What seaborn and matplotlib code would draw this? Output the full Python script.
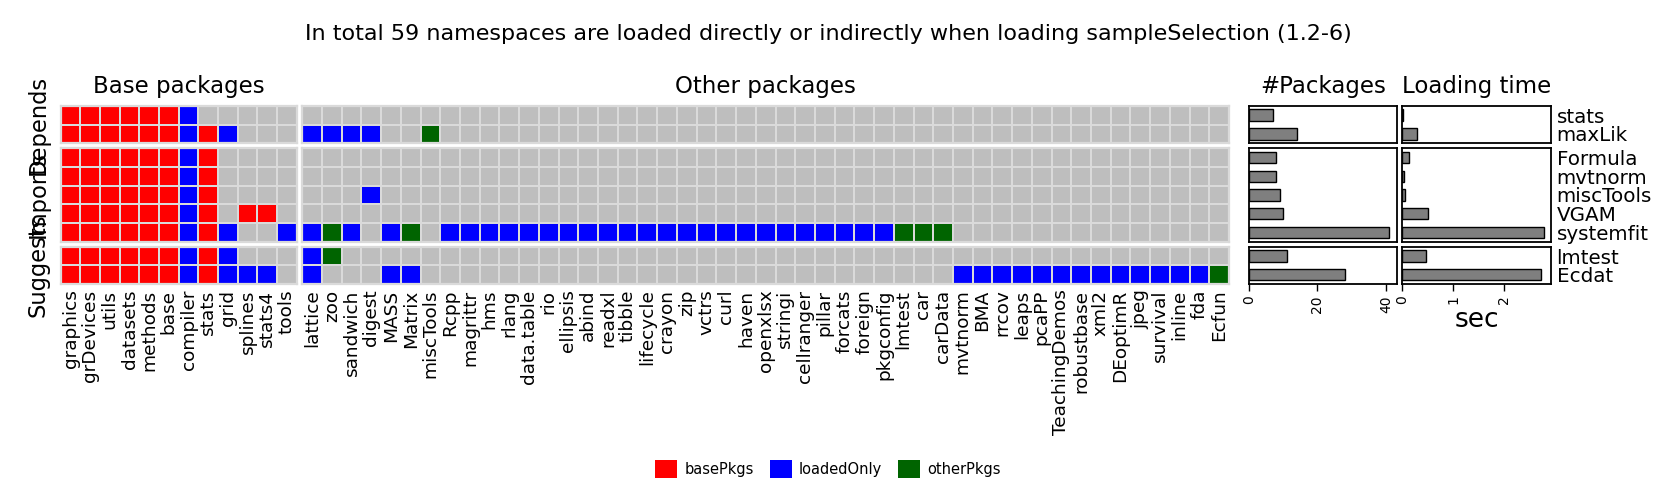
import numpy as np
import pandas as pd
import seaborn as sns
import matplotlib.pyplot as plt
from matplotlib.colors import ListedColormap
from matplotlib.patches import Patch

# requiring packages (rows) and their dependency groups
depends = ['stats', 'maxLik']
imports = ['Formula', 'mvtnorm', 'miscTools', 'VGAM', 'systemfit']
suggests = ['lmtest', 'Ecdat']

base_pkgs = ['graphics', 'grDevices', 'utils', 'datasets', 'methods', 'base',
             'compiler', 'stats', 'grid', 'splines', 'stats4', 'tools']
other_pkgs = ['lattice', 'zoo', 'sandwich', 'digest', 'MASS', 'Matrix', 'miscTools',
              'Rcpp', 'magrittr', 'hms', 'rlang', 'data.table', 'rio', 'ellipsis',
              'abind', 'readxl', 'tibble', 'lifecycle', 'crayon', 'zip', 'vctrs',
              'curl', 'haven', 'openxlsx', 'stringi', 'cellranger', 'pillar',
              'forcats', 'foreign', 'pkgconfig', 'lmtest', 'car', 'carData',
              'mvtnorm', 'BMA', 'rrcov', 'leaps', 'pcaPP', 'TeachingDemos',
              'robustbase', 'xml2', 'DEoptimR', 'jpeg', 'survival', 'inline',
              'fda', 'Ecfun']

# status codes: b = basePkgs, l = loadedOnly, o = otherPkgs, - = not loaded
base_status = {
    'stats':     "bbbbbbl-----",
    'maxLik':    "bbbbbblbl---",
    'Formula':   "bbbbbblb----",
    'mvtnorm':   "bbbbbblb----",
    'miscTools': "bbbbbblb----",
    'VGAM':      "bbbbbblb-bb-",
    'systemfit': "bbbbbblbl--l",
    'lmtest':    "bbbbbblbl---",
    'Ecdat':     "bbbbbblblll-",
}
other_status = {
    'stats':     "----------" "----------" "----------" "----------" "-------",
    'maxLik':    "llll--o---" "----------" "----------" "----------" "-------",
    'Formula':   "----------" "----------" "----------" "----------" "-------",
    'mvtnorm':   "----------" "----------" "----------" "----------" "-------",
    'miscTools': "---l------" "----------" "----------" "----------" "-------",
    'VGAM':      "----------" "----------" "----------" "----------" "-------",
    'systemfit': "lol-lo-lll" "llllllllll" "llllllllll" "ooo-------" "-------",
    'lmtest':    "lo--------" "----------" "----------" "----------" "-------",
    'Ecdat':     "l---ll----" "----------" "----------" "---lllllll" "llllllo",
}

# side panels
n_packages = [7, 14, 8, 8, 9, 10, 41, 11, 28]
load_sec = [0.01, 0.30, 0.13, 0.03, 0.05, 0.51, 2.78, 0.47, 2.72]

code_map = {'-': 0, 'b': 1, 'l': 2, 'o': 3}
cmap = ListedColormap(['#BEBEBE', '#FF0000', '#0000FF', '#006400'])
line_col = '#DADADA'

sns.set_style('white')
plt.rcParams['font.family'] = ['DejaVu Sans']
plt.rcParams['text.color'] = 'black'
plt.rcParams['axes.labelcolor'] = 'black'
plt.rcParams['xtick.color'] = 'black'
plt.rcParams['ytick.color'] = 'black'

W, H = 1658, 492
fig = plt.figure(figsize=(W / 100, H / 100), dpi=100)


def box(x0, y0, x1, y1):
    return [x0 / W, 1 - y1 / H, (x1 - x0) / W, (y1 - y0) / H]


groups = [('Depends', depends, 105.7, 143.3),
          ('Imports', imports, 148.3, 241.7),
          ('Suggests', suggests, 246.7, 284)]
blocks = [(base_pkgs, base_status, 60.7, 296.7),
          (other_pkgs, other_status, 302.3, 1229)]

all_rows = depends + imports + suggests
bar_df = pd.DataFrame({'pkg': all_rows, 'n': n_packages, 'sec': load_sec})

for gi, (gname, rows, y0, y1) in enumerate(groups):
    last = gi == len(groups) - 1
    for cols, status, x0, x1 in blocks:
        mat = pd.DataFrame([[code_map[c] for c in status[r]] for r in rows],
                           index=rows, columns=cols)
        ax = fig.add_axes(box(x0, y0, x1, y1))
        sns.heatmap(mat, cmap=cmap, vmin=-0.5, vmax=3.5, cbar=False,
                    linewidths=1.2, linecolor=line_col, ax=ax,
                    xticklabels=cols if last else False, yticklabels=False)
        for s in ax.spines.values():
            s.set_visible(True)
            s.set_color(line_col)
            s.set_linewidth(1.6)
        ax.set_xlabel('')
        ax.set_ylabel('')
        if last:
            ax.tick_params(axis='x', length=0, pad=4, labelsize=13.3, rotation=90)
            for t in ax.get_xticklabels():
                t.set_va('top')
                t.set_ha('center')
        if gi == 0:
            ax.set_title('Base packages' if cols is base_pkgs else 'Other packages',
                         fontsize=16.5, pad=9)
    fig.text(38 / W, 1 - (y0 + y1) / 2 / H, gname, rotation=90,
             ha='center', va='center', fontsize=16.3)

    sub = bar_df[bar_df['pkg'].isin(rows)]
    for key, xmax, bx0, bx1, ttl in [('n', 43.3, 1249, 1397.3, '#Packages'),
                                    ('sec', 2.92, 1402, 1551, 'Loading time')]:
        ax = fig.add_axes(box(bx0, y0, bx1, y1))
        sns.barplot(data=sub, x=key, y='pkg', orient='h', color='#7F7F7F',
                    saturation=1, edgecolor='black', linewidth=1.0, width=0.6, ax=ax)
        ax.set_xlim(0, xmax)
        ax.set_ylim(len(rows) - 0.5, -0.5)
        for s in ax.spines.values():
            s.set_visible(True)
            s.set_color('black')
            s.set_linewidth(1.3)
        ax.set_xlabel('')
        ax.set_ylabel('')
        if key == 'sec':
            ax.yaxis.tick_right()
            ax.tick_params(axis='y', length=0, pad=4, labelsize=14.3)
        else:
            ax.set_yticks([])
        if last:
            ticks = [0, 20, 40] if key == 'n' else [0, 1, 2]
            ax.set_xticks(ticks)
            ax.set_xticklabels([str(t) for t in ticks], rotation=90, fontsize=10)
            ax.tick_params(axis='x', length=5, width=1, color='black',
                           direction='out', bottom=True, pad=3)
            if key == 'sec':
                ax.set_xlabel('sec', fontsize=19, labelpad=2)
        else:
            ax.set_xticks([])
        if gi == 0:
            ax.set_title(ttl, fontsize=16.5, pad=9)

fig.text(828 / W, 1 - 34 / H,
         'In total 59 namespaces are loaded directly or indirectly when loading sampleSelection (1.2-6)',
         ha='center', va='center', fontsize=16)

handles = [Patch(facecolor=c, edgecolor='none') for c in ['#FF0000', '#0000FF', '#006400']]
fig.legend(handles, ['basePkgs', 'loadedOnly', 'otherPkgs'], loc='center',
           bbox_to_anchor=(828 / W, 1 - 469 / H), ncol=3, frameon=False,
           fontsize=10.5, handlelength=1.5, handleheight=1.5,
           handletextpad=0.5, columnspacing=1.1)

fig.savefig('out.png', dpi=100)
